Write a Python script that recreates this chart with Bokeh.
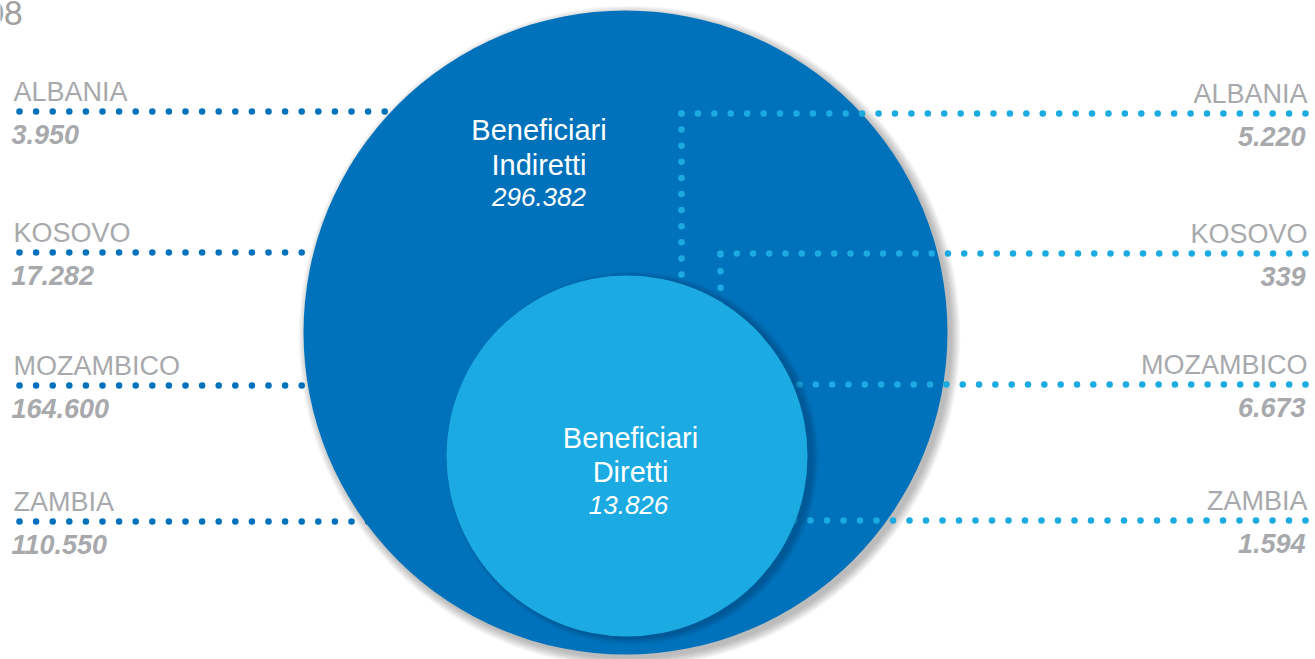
import numpy as np
from bokeh.plotting import figure
from bokeh.models import Range1d
from bokeh.core.properties import value
from bokeh.embed import file_html
from bokeh.resources import INLINE

# ---------------- data ----------------
countries = ["ALBANIA", "KOSOVO", "MOZAMBICO", "ZAMBIA"]
indirect_values = [3950, 17282, 164600, 110550]   # Beneficiari Indiretti (left)
direct_values = [5220, 339, 6673, 1594]           # Beneficiari Diretti (right)
page_number = "08"

def fmt(n):
    return f"{n:,}".replace(",", ".")

total_indirect = sum(indirect_values)
total_direct = sum(direct_values)

# ---------------- layout (pixel space) ----------------
DARK = "#0072BB"
LIGHT = "#1BABE2"
GRAY = "#A7A9AC"
FONT = value("Liberation Sans")

W, H = 1315, 659
big_c = (625.0, 332.0, 322.0)
small_c = (626.5, 455.5, 180.5)
left_rows = [111, 252, 385, 521]
right_rows = [113, 253, 384, 520]
right_starts = [681, 720, 799, 777]
vert_drops = [(681, 113, 274, 11), (720, 254, 304, 4)]
NAME_DY = -20     # country name baseline relative to dotted line
VAL_DY = 23       # value baseline relative to dotted line

p = figure(width=W, height=H, x_range=Range1d(0, W), y_range=Range1d(H, 0),
           output_backend="svg", toolbar_location=None, min_border=0,
           x_axis_location=None, y_axis_location=None)
p.grid.visible = False
p.outline_line_color = None
p.background_fill_color = "white"
p.border_fill_color = "white"

# page number (clipped at the left, as in the source page)
p.text(x=[22.5], y=[12], text=[page_number], text_font=value("Lato"), text_font_size="33px",
       text_color="#A0A0A0", text_align="right", text_baseline="alphabetic")

# left dotted lines (behind big circle)
for y in left_rows:
    xs = np.arange(19, 460, 16.6)
    p.scatter(x=xs, y=[y] * len(xs), size=6.5, marker="circle", fill_color=DARK, line_color=None)

# big circle shadow
for i in range(8):
    p.circle(x=[big_c[0] + 4], y=[big_c[1] + 4], radius=big_c[2] + 0.4 + i * 1.2,
             fill_color="black", fill_alpha=0.035, line_color=None)
p.circle(x=[big_c[0]], y=[big_c[1]], radius=big_c[2], fill_color=DARK, line_color=None)

# right dotted lines
for y, xs0 in zip(right_rows, right_starts):
    n = int(round((1305 - xs0) / 16.3)) + 1
    xs = np.linspace(xs0, 1305, n)
    p.scatter(x=xs, y=[y] * n, size=6.5, marker="circle", fill_color=LIGHT, line_color=None)
for x0, y0, y1, n in vert_drops:
    ys = np.linspace(y0, y1, n)
    p.scatter(x=[x0] * n, y=ys, size=6.5, marker="circle", fill_color=LIGHT, line_color=None)

# small circle shadow + circle
for i in range(7):
    p.circle(x=[small_c[0] + 5], y=[small_c[1] + 2], radius=small_c[2] + i * 1.0,
             fill_color="#00284a", fill_alpha=0.05, line_color=None)
p.circle(x=[small_c[0]], y=[small_c[1]], radius=small_c[2], fill_color=LIGHT, line_color=None)

# center texts
p.text(x=[538.5, 538.5], y=[129, 164], text=["Beneficiari", "Indiretti"], text_font=FONT,
       text_font_size="29px", text_color="white", text_align="center", text_baseline="alphabetic")
p.text(x=[538.5], y=[196], text=[fmt(total_indirect)], text_font=FONT, text_font_size="26px",
       text_font_style="italic", text_color="white", text_align="center", text_baseline="alphabetic")
p.text(x=[630, 630], y=[437, 471], text=["Beneficiari", "Diretti"], text_font=FONT,
       text_font_size="29px", text_color="white", text_align="center", text_baseline="alphabetic")
p.text(x=[628], y=[504], text=[fmt(total_direct)], text_font=FONT, text_font_size="26px",
       text_font_style="italic", text_color="white", text_align="center", text_baseline="alphabetic")

# left labels
p.text(x=[13] * 4, y=[y + NAME_DY for y in left_rows], text=countries, text_font=FONT,
       text_font_size="27px", text_color=GRAY, text_align="left", text_baseline="alphabetic")
p.text(x=[11] * 4, y=[y + VAL_DY for y in left_rows], text=[fmt(v) for v in indirect_values],
       text_font=FONT, text_font_size="27px", text_font_style="bold italic", text_color=GRAY,
       text_align="left", text_baseline="alphabetic")

# right labels
p.text(x=[1307] * 4, y=[y + NAME_DY for y in right_rows], text=countries, text_font=FONT,
       text_font_size="27px", text_color=GRAY, text_align="right", text_baseline="alphabetic")
p.text(x=[1305] * 4, y=[y + VAL_DY for y in right_rows], text=[fmt(v) for v in direct_values],
       text_font=FONT, text_font_size="27px", text_font_style="bold italic", text_color=GRAY,
       text_align="right", text_baseline="alphabetic")

open("out.html", "w").write(file_html(p, INLINE))
